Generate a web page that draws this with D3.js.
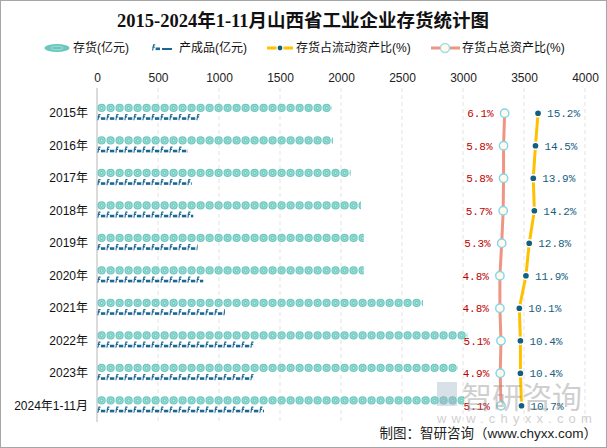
<!DOCTYPE html>
<html><head><meta charset="utf-8">
<script src="https://cdn.jsdelivr.net/npm/d3@7"></script>
<style>html,body{margin:0;padding:0;background:#fff;}</style>
</head><body>
<svg id="chart" width="607" height="448"></svg>
<script>
const categories = ["2015年","2016年","2017年","2018年","2019年","2020年","2021年","2022年","2023年","2024年1-11月"];
const inventory = [1926, 1934, 2079, 2164, 2186, 2186, 2672, 3035, 2960, 3010];
const finishedGoods = [844, 743, 776, 789, 825, 871, 1049, 1287, 1287, 1369];
const ratioCurrent = [15.2, 14.5, 13.9, 14.2, 12.8, 11.9, 10.1, 10.4, 10.4, 10.7];
const ratioTotal = [6.1, 5.8, 5.8, 5.7, 5.3, 4.8, 4.8, 5.1, 4.9, 5.1];
const xTicks = [0, 500, 1000, 1500, 2000, 2500, 3000, 3500, 4000];

const svg = d3.select("#chart");
const W = 607, H = 448;
const cjk = "'Liberation Serif','Noto Sans CJK SC',serif";
const sans = "'Liberation Sans','Noto Sans CJK SC',sans-serif";
const mono = "'Liberation Mono','Noto Sans CJK SC',monospace";

svg.append("rect").attr("x",0.5).attr("y",0.5).attr("width",W-1).attr("height",H-1)
  .attr("fill","#fff").attr("stroke","#a6a6a6");

// title
svg.append("text").attr("x",303).attr("y",27).attr("text-anchor","middle")
  .attr("font-family",cjk).attr("font-weight","bold").attr("font-size",18.5).attr("fill","#111")
  .text("2015-2024年1-11月山西省工业企业存货统计图");

const x = d3.scaleLinear().domain([0,4000]).range([97,585]);
const xp = d3.scaleLinear().domain([-105,28]).range([97,585]);
const y = d3.scaleBand().domain(categories).range([97,422]);
const yc = d => y(d) + y.bandwidth()/2;

// grid
svg.append("g").selectAll("line").data(xTicks.slice(1)).join("line")
  .attr("x1",d=>x(d)).attr("x2",d=>x(d)).attr("y1",88).attr("y2",422)
  .attr("stroke","#e3e3e3").attr("stroke-dasharray","4,3");

// top axis
const axis = d3.axisTop(x).tickValues(xTicks).tickFormat(d3.format("d")).tickSize(0).tickPadding(0);
const ag = svg.append("g").attr("transform","translate(0,82)").call(axis);
ag.select(".domain").remove();
ag.selectAll("text").attr("font-family",sans).attr("font-size",12).attr("fill","#222");

// y axis
svg.append("line").attr("x1",97).attr("x2",97).attr("y1",88).attr("y2",422)
  .attr("stroke","#cfcfcf").attr("stroke-width",1.5);
const ya = d3.axisLeft(y).tickSize(0).tickPadding(9);
const yg = svg.append("g").attr("transform","translate(97,0)").call(ya);
yg.select(".domain").remove();
yg.selectAll("text").attr("font-family",sans).attr("font-size",12).attr("fill","#111");

const defs = svg.append("defs");
// symbols
const circ = defs.append("g").attr("id","circSym");
circ.append("circle").attr("r",4.1).attr("fill","#6cc7be");
circ.append("circle").attr("r",2.6).attr("fill","none").attr("stroke","#a9e3dc").attr("stroke-width",0.9);
circ.append("circle").attr("r",1).attr("fill","#b8ebe5");
const prod = defs.append("g").attr("id","prodSym");
prod.append("path").attr("d","M0.6,3 L1.6,-2.6 L3.2,-2.6 M0.4,-0.4 L2.8,-0.4").attr("fill","none")
  .attr("stroke","#1b6794").attr("stroke-width",1.1);
prod.append("rect").attr("x",3.6).attr("y",0).attr("width",4.4).attr("height",2.6).attr("fill","#1b6794");

function pictorial(values, symId, dy, cls) {
  values.forEach((v,i) => {
    const w = x(v) - x(0);
    const id = cls + i;
    defs.append("clipPath").attr("id",id).append("rect")
      .attr("x",x(0)).attr("y",yc(categories[i])+dy-6).attr("width",w).attr("height",12);
    const n = Math.ceil(w/9);
    svg.append("g").attr("clip-path",`url(#${id})`).selectAll("use").data(d3.range(n)).join("use")
      .attr("href","#"+symId)
      .attr("x",k => x(0) + (symId==="circSym"?4.6:0.3) + k*9)
      .attr("y",yc(categories[i])+dy);
  });
}
pictorial(inventory,"circSym",-5.3,"ci");
pictorial(finishedGoods,"prodSym",4,"pi");

// lines
const lineT = d3.line().x((d,i)=>xp(d)).y((d,i)=>yc(categories[i]));
svg.append("path").datum(ratioTotal).attr("d",lineT).attr("fill","none")
  .attr("stroke","#ef9583").attr("stroke-width",3);
svg.append("path").datum(ratioCurrent).attr("d",lineT).attr("fill","none")
  .attr("stroke","#ffc000").attr("stroke-width",3);
svg.append("g").selectAll("circle").data(ratioTotal).join("circle")
  .attr("cx",d=>xp(d)).attr("cy",(d,i)=>yc(categories[i])).attr("r",4.2)
  .attr("fill","#fffbea").attr("stroke","#86d3ec").attr("stroke-width",1.4);
svg.append("g").selectAll("circle").data(ratioCurrent).join("circle")
  .attr("cx",d=>xp(d)).attr("cy",(d,i)=>yc(categories[i])).attr("r",3.6)
  .attr("fill","#135f80").attr("stroke","#fff").attr("stroke-width",1.5);

svg.append("g").selectAll("text").data(ratioTotal).join("text")
  .attr("x",d=>xp(d)-11).attr("y",(d,i)=>yc(categories[i])).attr("dy","0.35em")
  .attr("text-anchor","end").attr("font-family",mono).attr("font-size",11).attr("fill","#c00000")
  .text(d=>d.toFixed(1)+"%");
svg.append("g").selectAll("text").data(ratioCurrent).join("text")
  .attr("x",d=>xp(d)+9).attr("y",(d,i)=>yc(categories[i])).attr("dy","0.35em")
  .attr("text-anchor","start").attr("font-family",mono).attr("font-size",11).attr("fill","#175f82")
  .text(d=>d.toFixed(1)+"%");

// legend
const lg = svg.append("g").attr("font-family",sans).attr("font-size",12).attr("fill","#111");
const ly = 48;
lg.append("ellipse").attr("cx",57).attr("cy",ly).attr("rx",12.5).attr("ry",4).attr("fill","#6cc7be");
lg.append("ellipse").attr("cx",57).attr("cy",ly).attr("rx",6).attr("ry",1.8).attr("fill","none").attr("stroke","#a9e3dc").attr("stroke-width",0.8);
lg.append("text").attr("x",73).attr("y",ly).attr("dy","0.36em").text("存货(亿元)");
lg.append("use").attr("href","#prodSym").attr("x",152).attr("y",ly-0.5);
lg.append("line").attr("x1",162).attr("x2",172).attr("y1",ly+1).attr("y2",ly+1).attr("stroke","#1b6794").attr("stroke-width",2);
lg.append("text").attr("x",179).attr("y",ly).attr("dy","0.36em").text("产成品(亿元)");
lg.append("line").attr("x1",267).attr("x2",293).attr("y1",ly).attr("y2",ly).attr("stroke","#ffc000").attr("stroke-width",3);
lg.append("circle").attr("cx",280).attr("cy",ly).attr("r",3).attr("fill","#135f80").attr("stroke","#fff").attr("stroke-width",1.2);
lg.append("text").attr("x",296).attr("y",ly).attr("dy","0.36em").text("存货占流动资产比(%)");
lg.append("line").attr("x1",431).attr("x2",460).attr("y1",ly).attr("y2",ly).attr("stroke","#ef9583").attr("stroke-width",3);
lg.append("circle").attr("cx",445).attr("cy",ly).attr("r",4.5).attr("fill","#fffbea").attr("stroke","#9bdcef").attr("stroke-width",1.4);
lg.append("text").attr("x",462).attr("y",ly).attr("dy","0.36em").text("存货占总资产比(%)");

// watermark
const wm = svg.append("g").attr("opacity",0.4);
wm.append("rect").attr("x",437).attr("y",382).attr("width",20).attr("height",24).attr("fill","#9fb3c8");
wm.append("text").attr("x",462).attr("y",408).attr("font-family","'Noto Sans CJK SC',sans-serif")
  .attr("font-size",30).attr("fill","#8a8a8a").text("智研咨询");
wm.append("text").attr("x",437).attr("y",423).attr("font-family",sans).attr("font-size",13)
  .attr("letter-spacing",5.2).attr("fill","#8a8a8a").text("www.chyxx.com");

// source
svg.append("text").attr("x",597).attr("y",438).attr("text-anchor","end")
  .attr("font-family",sans).attr("font-size",13.5).attr("fill","#222")
  .text("制图：智研咨询（www.chyxx.com）");
</script>
</body></html>
